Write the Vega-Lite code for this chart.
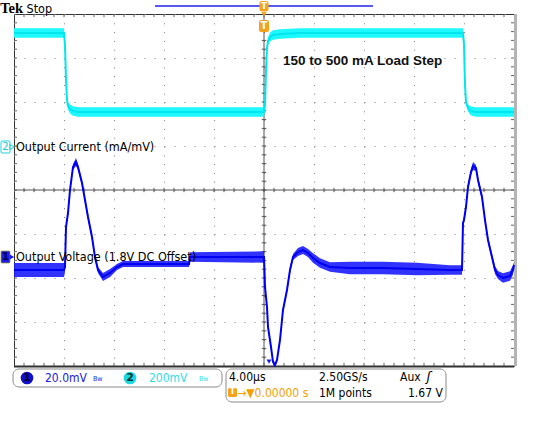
{
  "$schema": "https://vega.github.io/schema/vega-lite/v6.json",
  "width": 500,
  "height": 352,
  "autosize": "none",
  "padding": {"left": 14, "top": 14, "right": 19, "bottom": 55},
  "background": "white",
  "config": {
    "view": {"stroke": "#333", "strokeWidth": 1},
    "axis": {"labels": false, "ticks": false, "domain": false, "grid": true, "gridColor": "#808080", "gridWidth": 1, "titleOpacity": 0},
    "axisX": {"gridDash": [1, 7.8]},
    "axisY": {"gridDash": [1, 9]}
  },
  "data": {"values": [{}]},
  "datasets": {
    "xt": [{"p":-19.2},{"p":-18.4},{"p":-17.6},{"p":-16.8},{"p":-16},{"p":-15.2},{"p":-14.4},{"p":-13.6},{"p":-12.8},{"p":-12},{"p":-11.2},{"p":-10.4},{"p":-9.6},{"p":-8.8},{"p":-8},{"p":-7.2},{"p":-6.4},{"p":-5.6},{"p":-4.8},{"p":-4},{"p":-3.2},{"p":-2.4},{"p":-1.6},{"p":-0.8},{"p":0},{"p":0.8},{"p":1.6},{"p":2.4},{"p":3.2},{"p":4},{"p":4.8},{"p":5.6},{"p":6.4},{"p":7.2},{"p":8},{"p":8.8},{"p":9.6},{"p":10.4},{"p":11.2},{"p":12},{"p":12.8},{"p":13.6},{"p":14.4},{"p":15.2},{"p":16},{"p":16.8},{"p":17.6},{"p":18.4},{"p":19.2}],
    "yt": [{"p":-3.8},{"p":-3.6},{"p":-3.4},{"p":-3.2},{"p":-3},{"p":-2.8},{"p":-2.6},{"p":-2.4},{"p":-2.2},{"p":-2},{"p":-1.8},{"p":-1.6},{"p":-1.4},{"p":-1.2},{"p":-1},{"p":-0.8},{"p":-0.6},{"p":-0.4},{"p":-0.2},{"p":0},{"p":0.2},{"p":0.4},{"p":0.6},{"p":0.8},{"p":1},{"p":1.2},{"p":1.4},{"p":1.6},{"p":1.8},{"p":2},{"p":2.2},{"p":2.4},{"p":2.6},{"p":2.8},{"p":3},{"p":3.2},{"p":3.4},{"p":3.6},{"p":3.8}],
    "ch2": [
      {"t":-20,"v":3.568,"n":0.11},{"t":-16,"v":3.568,"n":0.11},{"t":-15.92,"v":3.295,"n":0.05},{"t":-15.84,"v":2.5,"n":0.04},{"t":-15.76,"v":2.045,"n":0.05},{"t":-15.68,"v":1.909,"n":0.08},{"t":-15.52,"v":1.841,"n":0.1},{"t":-15.28,"v":1.795,"n":0.11},{"t":-14.88,"v":1.773,"n":0.11},{"t":0,"v":1.773,"n":0.11},{"t":0.08,"v":1.932,"n":0.05},{"t":0.16,"v":2.727,"n":0.04},{"t":0.24,"v":3.227,"n":0.05},{"t":0.32,"v":3.386,"n":0.08},{"t":0.48,"v":3.477,"n":0.1},{"t":0.72,"v":3.523,"n":0.11},{"t":1.28,"v":3.545,"n":0.11},{"t":2.88,"v":3.568,"n":0.11},{"t":15.92,"v":3.568,"n":0.11},{"t":16.0,"v":3.295,"n":0.05},{"t":16.08,"v":2.386,"n":0.04},{"t":16.16,"v":2.0,"n":0.05},{"t":16.32,"v":1.864,"n":0.08},{"t":16.56,"v":1.795,"n":0.1},{"t":16.96,"v":1.773,"n":0.11},{"t":20,"v":1.773,"n":0.11}
    ],
    "ch1": [
      {"t":-20,"v":-1.818,"n":0.16},{"t":-16,"v":-1.818,"n":0.16},{"t":-15.92,"v":-1.75,"n":0.12},{"t":-15.84,"v":-0.841,"n":0.07},{"t":-15.68,"v":-0.523,"n":0.07},{"t":-15.52,"v":0,"n":0.07},{"t":-15.28,"v":0.523,"n":0.07},{"t":-15.04,"v":0.636,"n":0.09},{"t":-14.88,"v":0.523,"n":0.07},{"t":-14.56,"v":0.159,"n":0.07},{"t":-14.32,"v":-0.227,"n":0.07},{"t":-14.08,"v":-0.614,"n":0.07},{"t":-13.76,"v":-1.068,"n":0.07},{"t":-13.52,"v":-1.523,"n":0.07},{"t":-13.28,"v":-1.818,"n":0.07},{"t":-12.88,"v":-1.977,"n":0.09},{"t":-12.32,"v":-1.886,"n":0.09},{"t":-11.76,"v":-1.75,"n":0.07},{"t":-11.28,"v":-1.682,"n":0.07},{"t":-9.12,"v":-1.682,"n":0.07},{"t":-6.0,"v":-1.682,"n":0.07},{"t":-5.92,"v":-1.523,"n":0.11},{"t":0,"v":-1.523,"n":0.13},{"t":0.08,"v":-2.205,"n":0.07},{"t":0.24,"v":-2.659,"n":0.05},{"t":0.32,"v":-3.114,"n":0.05},{"t":0.56,"v":-3.568,"n":0.05},{"t":0.72,"v":-3.909,"n":0.05},{"t":0.88,"v":-3.977,"n":0.05},{"t":1.04,"v":-3.864,"n":0.05},{"t":1.28,"v":-3.409,"n":0.05},{"t":1.52,"v":-2.727,"n":0.05},{"t":1.84,"v":-2.273,"n":0.05},{"t":2.08,"v":-1.818,"n":0.07},{"t":2.32,"v":-1.523,"n":0.07},{"t":2.72,"v":-1.409,"n":0.09},{"t":3.12,"v":-1.364,"n":0.09},{"t":3.52,"v":-1.432,"n":0.09},{"t":3.92,"v":-1.545,"n":0.11},{"t":4.48,"v":-1.659,"n":0.11},{"t":5.28,"v":-1.75,"n":0.11},{"t":6.88,"v":-1.773,"n":0.14},{"t":9.52,"v":-1.773,"n":0.14},{"t":12.24,"v":-1.795,"n":0.14},{"t":14.88,"v":-1.818,"n":0.11},{"t":15.84,"v":-1.818,"n":0.11},{"t":15.92,"v":-0.75,"n":0.07},{"t":16.0,"v":-0.682,"n":0.07},{"t":16.16,"v":-0.386,"n":0.07},{"t":16.32,"v":0.068,"n":0.07},{"t":16.56,"v":0.409,"n":0.07},{"t":16.72,"v":0.545,"n":0.09},{"t":16.96,"v":0.5,"n":0.07},{"t":17.12,"v":0.227,"n":0.07},{"t":17.44,"v":-0.159,"n":0.07},{"t":17.68,"v":-0.682,"n":0.07},{"t":17.92,"v":-1.136,"n":0.07},{"t":18.24,"v":-1.523,"n":0.07},{"t":18.48,"v":-1.818,"n":0.09},{"t":18.72,"v":-1.932,"n":0.09},{"t":19.12,"v":-2.0,"n":0.11},{"t":19.68,"v":-1.955,"n":0.11},{"t":19.92,"v":-1.818,"n":0.11},{"t":20,"v":-1.705,"n":0.07}
    ]
  },
  "layer": [
    {
      "data": {"name": "xt"},
      "mark": {"type": "rule", "color": "#555", "strokeWidth": 1},
      "encoding": {
        "x": {"field": "p", "type": "quantitative", "scale": {"domain": [-20, 20], "nice": false, "zero": false}, "axis": {"title": null, "values": [-20,-16,-12,-8,-4,0,4,8,12,16,20]}},
        "y": {"datum": -0.05, "scale": {"domain": [-4, 4], "nice": false, "zero": false}, "axis": {"title": null, "values": [-4,-3,-2,-1,0,1,2,3,4]}},
        "y2": {"datum": 0.05}
      }
    },
    {
      "data": {"name": "xt"},
      "mark": {"type": "rule", "color": "#666", "strokeWidth": 1},
      "encoding": {"x": {"field": "p", "type": "quantitative"}, "y": {"datum": 4}, "y2": {"datum": 3.93}}
    },
    {
      "data": {"name": "xt"},
      "mark": {"type": "rule", "color": "#666", "strokeWidth": 1},
      "encoding": {"x": {"field": "p", "type": "quantitative"}, "y": {"datum": -4}, "y2": {"datum": -3.93}}
    },
    {
      "data": {"name": "yt"},
      "mark": {"type": "rule", "color": "#555", "strokeWidth": 1},
      "encoding": {"y": {"field": "p", "type": "quantitative"}, "x": {"datum": -0.18}, "x2": {"datum": 0.18}}
    },
    {
      "data": {"name": "yt"},
      "mark": {"type": "rule", "color": "#666", "strokeWidth": 1},
      "encoding": {"y": {"field": "p", "type": "quantitative"}, "x": {"datum": -20}, "x2": {"datum": -19.76}}
    },
    {
      "data": {"name": "yt"},
      "mark": {"type": "rule", "color": "#666", "strokeWidth": 1},
      "encoding": {"y": {"field": "p", "type": "quantitative"}, "x": {"datum": 20}, "x2": {"datum": 19.76}}
    },
    {
      "mark": {"type": "rule", "color": "#555", "strokeWidth": 1},
      "encoding": {"y": {"datum": 0}, "x": {"datum": -20}, "x2": {"datum": 20}}
    },
    {
      "mark": {"type": "rule", "color": "#555", "strokeWidth": 1},
      "encoding": {"x": {"datum": 0}, "y": {"datum": -4}, "y2": {"datum": 4}}
    },
    {
      "mark": {"type": "rule", "color": "#b4b4b4", "strokeWidth": 3, "xOffset": 1.5},
      "encoding": {"x": {"datum": 20}, "y": {"datum": -4}, "y2": {"datum": 4}}
    },
    {
      "mark": {"type": "rule", "color": "#333", "strokeWidth": 2, "yOffset": 0.5},
      "encoding": {"y": {"datum": -4}, "x": {"datum": -20}, "x2": {"datum": 20}}
    },
    {
      "data": {"name": "ch2"},
      "mark": {"type": "errorband", "color": "#1ef8ff", "band": {"opacity": 1}},
      "encoding": {"x": {"field": "t", "type": "quantitative"}, "y": {"field": "v", "type": "quantitative"}, "yError": {"field": "n"}}
    },
    {
      "data": {"name": "ch2"},
      "mark": {"type": "line", "color": "#00e6ef", "strokeWidth": 2},
      "encoding": {"x": {"field": "t", "type": "quantitative"}, "y": {"field": "v", "type": "quantitative"}}
    },
    {
      "data": {"name": "ch1"},
      "mark": {"type": "errorband", "color": "#1c1cff", "band": {"opacity": 0.9}},
      "encoding": {"x": {"field": "t", "type": "quantitative"}, "y": {"field": "v", "type": "quantitative"}, "yError": {"field": "n"}}
    },
    {
      "data": {"name": "ch1"},
      "mark": {"type": "line", "color": "#0000f0", "strokeWidth": 2},
      "encoding": {"x": {"field": "t", "type": "quantitative"}, "y": {"field": "v", "type": "quantitative"}}
    },
    {
      "mark": {"type": "text", "text": "Tek", "font": "Liberation Serif", "fontWeight": "bold", "fontSize": 14.5, "align": "left", "baseline": "alphabetic", "color": "#000"},
      "encoding": {"x": {"datum": -21.1}, "y": {"datum": 4.03}}
    },
    {
      "mark": {"type": "text", "text": "Stop", "font": "DejaVu Sans Condensed", "fontSize": 12.5, "align": "left", "baseline": "alphabetic", "color": "#000"},
      "encoding": {"x": {"datum": -19.0}, "y": {"datum": 4.03}}
    },
    {
      "mark": {"type": "rule", "color": "#2222ee", "strokeWidth": 1.5},
      "encoding": {"x": {"datum": -8.72}, "x2": {"datum": 8.72}, "y": {"datum": 4.182}}
    },
    {
      "mark": {"type": "rect", "fill": "#f5a31a", "cornerRadius": 2},
      "encoding": {"x": {"datum": -0.36}, "x2": {"datum": 0.36}, "y": {"datum": 4.295}, "y2": {"datum": 4.06}}
    },
    {
      "mark": {"type": "point", "shape": "triangle-down", "filled": true, "size": 30, "color": "#f5a31a", "opacity": 1},
      "encoding": {"x": {"datum": 0}, "y": {"datum": 4.0}}
    },
    {
      "mark": {"type": "text", "text": "T", "font": "DejaVu Sans", "fontWeight": "bold", "fontSize": 9, "align": "center", "baseline": "middle", "color": "white"},
      "encoding": {"x": {"datum": 0}, "y": {"datum": 4.18}}
    },
    {
      "mark": {"type": "rect", "fill": "#f5a31a", "cornerRadius": 2},
      "encoding": {"x": {"datum": -0.4}, "x2": {"datum": 0.4}, "y": {"datum": 3.864}, "y2": {"datum": 3.591}}
    },
    {
      "mark": {"type": "text", "text": "T", "font": "DejaVu Sans", "fontWeight": "bold", "fontSize": 10, "align": "center", "baseline": "middle", "color": "white"},
      "encoding": {"x": {"datum": 0}, "y": {"datum": 3.73}}
    },
    {
      "mark": {"type": "rect", "fill": "white", "stroke": "#19d6e0", "strokeWidth": 1, "cornerRadius": 1},
      "encoding": {"x": {"datum": -21.04}, "x2": {"datum": -20.32}, "y": {"datum": 1.114}, "y2": {"datum": 0.841}}
    },
    {
      "mark": {"type": "point", "shape": "triangle-right", "filled": false, "size": 25, "color": "#19d6e0", "strokeWidth": 1, "opacity": 1},
      "encoding": {"x": {"datum": -20.16}, "y": {"datum": 0.977}}
    },
    {
      "mark": {"type": "text", "text": "2", "font": "DejaVu Sans", "fontSize": 10, "align": "center", "baseline": "middle", "color": "#19c8d6"},
      "encoding": {"x": {"datum": -20.68}, "y": {"datum": 0.977}}
    },
    {
      "mark": {"type": "text", "text": "Output Current (mA/mV)", "font": "DejaVu Sans Condensed", "fontSize": 12.5, "align": "left", "baseline": "alphabetic", "color": "#000"},
      "encoding": {"x": {"datum": -19.84}, "y": {"datum": 0.88}}
    },
    {
      "mark": {"type": "rect", "fill": "#1a1ae6", "stroke": "#99993a", "strokeWidth": 0.8, "cornerRadius": 1},
      "encoding": {"x": {"datum": -21.04}, "x2": {"datum": -20.32}, "y": {"datum": -1.386}, "y2": {"datum": -1.659}}
    },
    {
      "mark": {"type": "point", "shape": "triangle-right", "filled": true, "size": 25, "color": "#1a1ae6", "opacity": 1},
      "encoding": {"x": {"datum": -20.16}, "y": {"datum": -1.523}}
    },
    {
      "mark": {"type": "text", "text": "1", "font": "DejaVu Sans", "fontSize": 10, "fontWeight": "bold", "align": "center", "baseline": "middle", "color": "#000040"},
      "encoding": {"x": {"datum": -20.68}, "y": {"datum": -1.523}}
    },
    {
      "mark": {"type": "text", "text": "Output Voltage (1.8V DC Offset)", "font": "DejaVu Sans Condensed", "fontSize": 12.5, "align": "left", "baseline": "alphabetic", "color": "#000"},
      "encoding": {"x": {"datum": -19.84}, "y": {"datum": -1.62}}
    },
    {
      "mark": {"type": "text", "text": "150 to 500 mA Load Step", "font": "Liberation Sans", "fontWeight": "bold", "fontSize": 13.5, "align": "left", "baseline": "alphabetic", "color": "#111"},
      "encoding": {"x": {"datum": 1.52}, "y": {"datum": 2.84}}
    },
    {
      "mark": {"type": "point", "shape": "triangle-down", "filled": true, "size": 25, "color": "#1a1ae6", "opacity": 1},
      "encoding": {"x": {"datum": 0.4}, "y": {"datum": -3.9}}
    },
    {
      "mark": {"type": "rect", "fill": "white", "stroke": "#8a8a8a", "strokeWidth": 1, "cornerRadius": 6},
      "encoding": {"x": {"datum": -20.08}, "x2": {"datum": -3.36}, "y": {"datum": -4.068}, "y2": {"datum": -4.477}}
    },
    {
      "mark": {"type": "point", "shape": "circle", "filled": true, "size": 160, "color": "#1010c8", "opacity": 1},
      "encoding": {"x": {"datum": -18.96}, "y": {"datum": -4.273}}
    },
    {
      "mark": {"type": "text", "text": "1", "font": "DejaVu Sans", "fontSize": 11, "fontWeight": "bold", "align": "center", "baseline": "middle", "color": "#000030"},
      "encoding": {"x": {"datum": -18.96}, "y": {"datum": -4.273}}
    },
    {
      "mark": {"type": "text", "text": "20.0mV", "font": "DejaVu Sans Condensed", "fontSize": 12, "align": "left", "baseline": "alphabetic", "color": "#2020e0"},
      "encoding": {"x": {"datum": -17.52}, "y": {"datum": -4.364}}
    },
    {
      "mark": {"type": "text", "text": "Bw", "font": "DejaVu Sans Condensed", "fontSize": 7, "align": "left", "baseline": "alphabetic", "color": "#2020e0"},
      "encoding": {"x": {"datum": -13.68}, "y": {"datum": -4.33}}
    },
    {
      "mark": {"type": "point", "shape": "circle", "filled": true, "size": 160, "color": "#1ad8e0", "opacity": 1},
      "encoding": {"x": {"datum": -10.72}, "y": {"datum": -4.273}}
    },
    {
      "mark": {"type": "text", "text": "2", "font": "DejaVu Sans", "fontSize": 11, "fontWeight": "bold", "align": "center", "baseline": "middle", "color": "#003030"},
      "encoding": {"x": {"datum": -10.72}, "y": {"datum": -4.273}}
    },
    {
      "mark": {"type": "text", "text": "200mV", "font": "DejaVu Sans Condensed", "fontSize": 12, "align": "left", "baseline": "alphabetic", "color": "#30dce6"},
      "encoding": {"x": {"datum": -9.2}, "y": {"datum": -4.364}}
    },
    {
      "mark": {"type": "text", "text": "Bw", "font": "DejaVu Sans Condensed", "fontSize": 7, "align": "left", "baseline": "alphabetic", "color": "#30dce6"},
      "encoding": {"x": {"datum": -5.2}, "y": {"datum": -4.33}}
    },
    {
      "mark": {"type": "rect", "fill": "white", "stroke": "#8a8a8a", "strokeWidth": 1, "cornerRadius": 6},
      "encoding": {"x": {"datum": -3.04}, "x2": {"datum": 14.56}, "y": {"datum": -4.068}, "y2": {"datum": -4.818}}
    },
    {
      "mark": {"type": "text", "text": "4.00µs", "font": "DejaVu Sans Condensed", "fontSize": 12, "align": "left", "baseline": "alphabetic", "color": "#000"},
      "encoding": {"x": {"datum": -2.8}, "y": {"datum": -4.35}}
    },
    {
      "mark": {"type": "text", "text": "2.50GS/s", "font": "DejaVu Sans Condensed", "fontSize": 12, "align": "left", "baseline": "alphabetic", "color": "#000"},
      "encoding": {"x": {"datum": 4.4}, "y": {"datum": -4.35}}
    },
    {
      "mark": {"type": "text", "text": "Aux", "font": "DejaVu Sans Condensed", "fontSize": 12, "align": "left", "baseline": "alphabetic", "color": "#000"},
      "encoding": {"x": {"datum": 10.88}, "y": {"datum": -4.35}}
    },
    {
      "mark": {"type": "text", "text": "ʃ", "font": "DejaVu Sans", "fontSize": 13, "fontStyle": "italic", "align": "left", "baseline": "alphabetic", "color": "#000"},
      "encoding": {"x": {"datum": 13.0}, "y": {"datum": -4.35}}
    },
    {
      "mark": {"type": "rect", "fill": "#f5a31a", "cornerRadius": 1.5},
      "encoding": {"x": {"datum": -2.88}, "x2": {"datum": -2.16}, "y": {"datum": -4.5}, "y2": {"datum": -4.705}}
    },
    {
      "mark": {"type": "text", "text": "T", "font": "DejaVu Sans", "fontWeight": "bold", "fontSize": 8, "align": "center", "baseline": "middle", "color": "white"},
      "encoding": {"x": {"datum": -2.52}, "y": {"datum": -4.6}}
    },
    {
      "mark": {"type": "text", "text": "→▼0.00000 s", "font": "DejaVu Sans Condensed", "fontSize": 12, "align": "left", "baseline": "alphabetic", "color": "#f5a000"},
      "encoding": {"x": {"datum": -2.14}, "y": {"datum": -4.705}}
    },
    {
      "mark": {"type": "text", "text": "1M points", "font": "DejaVu Sans Condensed", "fontSize": 12, "align": "left", "baseline": "alphabetic", "color": "#000"},
      "encoding": {"x": {"datum": 4.4}, "y": {"datum": -4.705}}
    },
    {
      "mark": {"type": "text", "text": "1.67 V", "font": "DejaVu Sans Condensed", "fontSize": 12, "align": "left", "baseline": "alphabetic", "color": "#000"},
      "encoding": {"x": {"datum": 11.52}, "y": {"datum": -4.705}}
    }
  ]
}
